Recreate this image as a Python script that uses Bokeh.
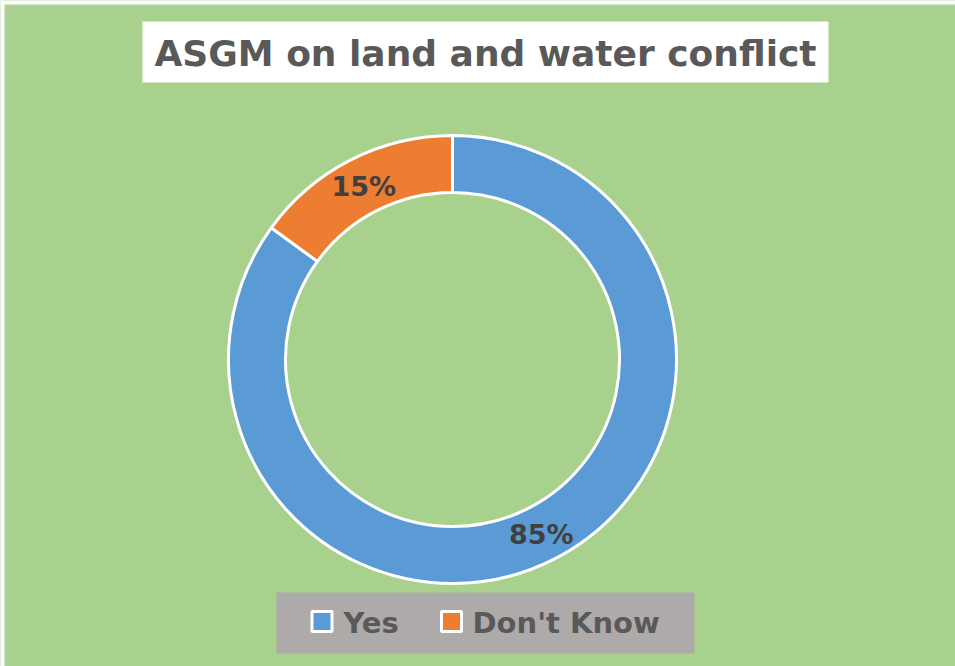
import math
from bokeh.plotting import figure
from bokeh.models import Range1d, ColumnDataSource
from bokeh.core.properties import value
from bokeh.embed import file_html
from bokeh.resources import INLINE

# ---- data ----
categories = ["Yes", "Don't Know"]
shares = [85, 15]
colors = ["#5B9BD5", "#ED7D31"]
title_text = "ASGM on land and water conflict"

W, H = 955, 666
FONT = value("DejaVu Sans")

p = figure(width=W, height=H, output_backend="svg", toolbar_location=None,
           x_range=Range1d(0, W), y_range=Range1d(0, H),
           min_border_left=0, min_border_top=0, min_border_right=0, min_border_bottom=0)
p.axis.visible = False
p.grid.visible = False
p.background_fill_color = "#A9D18E"
p.border_fill_color = "#A9D18E"
p.outline_line_color = None

def Y(ys):
    return H - ys

# white margin and thin grey frame edge on left and top, as in the reference
p.quad(left=[0, 0], right=[4, W], bottom=[0, H - 4], top=[H, H],
       fill_color="white", line_color=None)
p.line(x=[4.5, 4.5, W + 2], y=[-2, H - 4.5, H - 4.5], line_color="#D0D0D0", line_width=1)

# ---- donut ----
cx, cy = 452, Y(359)
r_out, r_in = 224, 167
total = sum(shares)
starts, ends, mids = [], [], []
a = math.pi / 2
for s in shares:
    span = 2 * math.pi * s / total
    starts.append(a)
    ends.append(a - span)
    mids.append(a - span / 2)
    a -= span

src = ColumnDataSource(dict(cat=categories, val=shares, color=colors,
                            start=starts, end=ends))
p.annular_wedge(x=cx, y=cy, inner_radius=r_in, outer_radius=r_out,
                start_angle="start", end_angle="end", direction="clock",
                fill_color="color", line_color="white", line_width=3, source=src)

r_mid = (r_in + r_out) / 2
lab_x = [cx + r_mid * math.cos(m) for m in mids]
lab_y = [cy + r_mid * math.sin(m) - 1 for m in mids]
lab_t = [f"{v}%" for v in shares]
p.text(x=lab_x, y=lab_y, text=lab_t, text_font=FONT, text_font_style="bold",
       text_font_size="27px", text_color="#404040", text_align="center",
       text_baseline="middle")

# ---- title ----
p.rect(x=485, y=Y(51.5), width=686, height=61, fill_color="white", line_color=None)
p.text(x=[485], y=[Y(53)], text=[title_text], text_font=FONT, text_font_style="bold",
       text_font_size="36px", text_color="#595959", text_align="center",
       text_baseline="middle")

# ---- legend ----
p.rect(x=485, y=Y(622.5), width=418, height=61, fill_color="#AEAAAA", line_color=None)
mk_x = [321.5, 451]
txt_x = [343, 472]
p.rect(x=mk_x, y=[Y(621)] * 2, width=20, height=20, fill_color=colors,
       line_color="white", line_width=3)
p.text(x=txt_x, y=[Y(622)] * 2, text=categories, text_font=FONT,
       text_font_style="bold", text_font_size="29px", text_color="#595959",
       text_align="left", text_baseline="middle")

open("out.html", "w").write(file_html(p, INLINE))
